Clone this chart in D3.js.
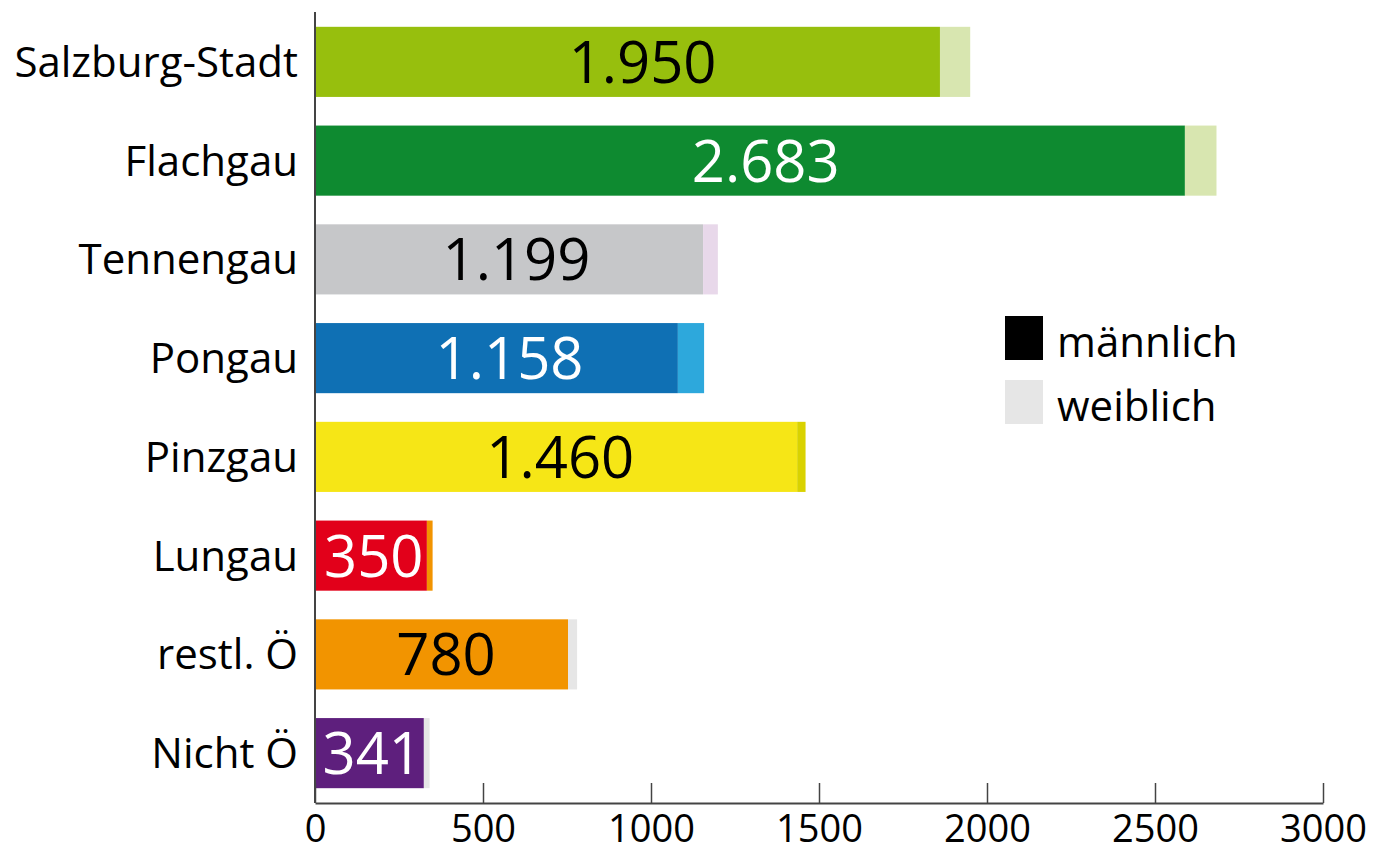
<!DOCTYPE html>
<html>
<head>
<meta charset="utf-8">
<script src="https://cdn.jsdelivr.net/npm/d3@7"></script>
<style>
  body { margin: 0; background: #fff; }
  text { font-family: "Open Sans", sans-serif; }
</style>
</head>
<body>
<div id="chart"></div>
<script>
// Data
const regions = ["Salzburg-Stadt", "Flachgau", "Tennengau", "Pongau", "Pinzgau", "Lungau", "restl. Ö", "Nicht Ö"];
const totals  = [1950, 2683, 1199, 1158, 1460, 350, 780, 341];
const labels  = ["1.950", "2.683", "1.199", "1.158", "1.460", "350", "780", "341"];
const female  = [90, 94, 44, 78, 25, 17, 27, 17];
const maleColors   = ["#97bf0d", "#0e8a30", "#c6c7c9", "#0f70b4", "#f6e616", "#e2001a", "#f29400", "#5e1f7d"];
const femaleColors = ["#d8e6b0", "#d8e6b0", "#e8d8ea", "#2da8dc", "#d9d200", "#f29400", "#e6e6e6", "#e6e6e6"];
const labelColors  = ["#000", "#fff", "#000", "#fff", "#000", "#fff", "#000", "#fff"];
const xTicks = [0, 500, 1000, 1500, 2000, 2500, 3000];
const legendItems = ["männlich", "weiblich"];
const legendColors = ["#000", "#e6e6e6"];

const width = 1374, height = 854;
const margin = { top: 12, right: 51, bottom: 51, left: 315 };

const data = regions.map((r, i) => ({
  region: r,
  total: totals[i],
  male: totals[i] - female[i],
  label: labels[i],
  mc: maleColors[i],
  fc: femaleColors[i],
  tc: labelColors[i]
}));

const svg = d3.select("#chart")
  .append("svg")
  .attr("width", width)
  .attr("height", height);

const x = d3.scaleLinear()
  .domain([0, 3000])
  .range([margin.left, width - margin.right]);

const y = d3.scaleBand()
  .domain(regions)
  .range([margin.top, height - margin.bottom])
  .paddingInner(0.29)
  .paddingOuter(0.15);

// bars: male part, then female part on top of it
const rows = svg.selectAll(".row")
  .data(data)
  .enter()
  .append("g")
  .attr("class", "row");

rows.append("rect")
  .attr("x", x(0))
  .attr("y", d => y(d.region))
  .attr("width", d => x(d.male) - x(0))
  .attr("height", y.bandwidth())
  .attr("fill", d => d.mc);

rows.append("rect")
  .attr("x", d => x(d.male))
  .attr("y", d => y(d.region))
  .attr("width", d => x(d.total) - x(d.male))
  .attr("height", y.bandwidth())
  .attr("fill", d => d.fc);

// value labels inside the bars
rows.append("text")
  .attr("y", d => y(d.region) + y.bandwidth() / 2)
  .attr("dy", "0.36em")
  .attr("font-size", 58)
  .attr("fill", d => d.tc)
  .text(d => d.label)
  .each(function(d) {
    const w = this.getComputedTextLength();
    let cx = (x(0) + x(d.total)) / 2 - w / 2;
    if (cx < x(0) + 5) cx = x(0) + 5;
    d3.select(this).attr("x", cx);
  });

// category labels
svg.selectAll(".cat")
  .data(data)
  .enter()
  .append("text")
  .attr("class", "cat")
  .attr("x", margin.left - 17)
  .attr("y", d => y(d.region) + y.bandwidth() / 2)
  .attr("dy", "0.36em")
  .attr("text-anchor", "end")
  .attr("font-size", 42)
  .attr("fill", "#000")
  .text(d => d.region);

// x axis with ticks pointing up
const xAxis = svg.append("g")
  .attr("transform", `translate(0, ${height - margin.bottom})`)
  .call(d3.axisBottom(x).tickValues(xTicks).tickFormat(d3.format("d"))
    .tickSizeInner(-20).tickSizeOuter(0).tickPadding(12));

xAxis.select(".domain").attr("stroke", "#444").attr("stroke-width", 2);
xAxis.selectAll(".tick line").attr("stroke", "#444").attr("stroke-width", 1.5);
xAxis.selectAll(".tick text")
  .attr("font-size", 38)
  .attr("font-family", "Open Sans, sans-serif")
  .attr("fill", "#000");

// y axis line
svg.append("line")
  .attr("x1", x(0)).attr("x2", x(0))
  .attr("y1", margin.top).attr("y2", height - margin.bottom)
  .attr("stroke", "#444")
  .attr("stroke-width", 2);

// legend
const legend = svg.append("g")
  .attr("transform", "translate(1005, 316)");

legendItems.forEach((item, i) => {
  legend.append("rect")
    .attr("x", 0)
    .attr("y", i * 64)
    .attr("width", 38)
    .attr("height", 44)
    .attr("fill", legendColors[i]);

  legend.append("text")
    .attr("x", 52)
    .attr("y", i * 64 + 26)
    .attr("dy", "0.36em")
    .attr("font-size", 42)
    .attr("fill", "#000")
    .text(item);
});
</script>
</body>
</html>
